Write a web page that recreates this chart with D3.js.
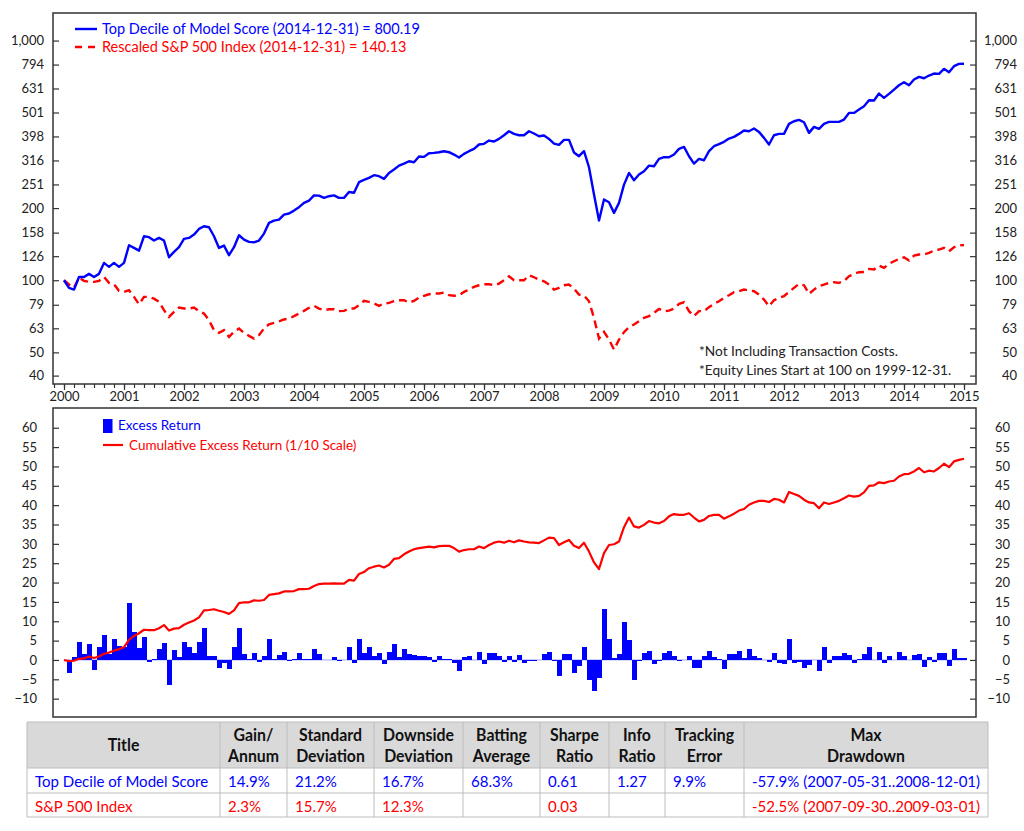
<!DOCTYPE html>
<html>
<head>
<meta charset="utf-8">
<script src="https://d3js.org/d3.v7.min.js"></script>
<style>
  body { margin: 0; background: #fff; }
  text { font-family: Lato, "Open Sans", sans-serif; }
</style>
</head>
<body>
<script>
// monthly equity lines, 1999-12-31 .. 2014-12-31 (181 points)
var modelScore = [100, 92.9, 91.4, 103.2, 103.2, 106.3, 103.2, 106.3, 118.1, 113.7, 118.1, 113.7, 118.1,
  140.0, 136.4, 132.9, 152.6, 151.2, 146.4, 150.2, 146.4, 124.7, 131.3, 137.3, 148.8,
  150.2, 155.0, 163.7, 168.0, 166.4, 152.6, 136.4, 139.5, 127.2, 137.3, 154.0, 147.8,
  144.5, 144.0, 146.4, 156.5, 173.5, 177.4, 179.1, 187.9, 189.9, 195.2, 201.8, 210.1,
  215.0, 226.0, 225.4, 220.6, 224.1, 226.0, 220.6, 220.6, 233.5, 231.6, 256.6, 262.0,
  267.3, 274.3, 271.7, 264.8, 280.4, 289.6, 300.8, 306.7, 313.6, 310.7, 328.1, 327.1,
  338.8, 339.9, 342.1, 345.4, 342.1, 334.5, 325.0, 336.6, 345.4, 353.2, 368.3, 370.6,
  382.6, 379.0, 388.8, 402.7, 418.5, 407.9, 402.7, 402.7, 418.5, 409.3, 398.9, 401.5,
  388.8, 371.8, 367.1, 385.1, 385.1, 341.0, 329.2, 345.4, 296.1, 227.8, 177.4, 217.1,
  211.6, 191.0, 210.2, 250.6, 280.4, 261.4, 276.0, 285.0, 300.8, 298.9, 320.9, 326.1,
  326.1, 334.5, 353.2, 360.0, 329.2, 306.7, 320.9, 316.7, 345.4, 362.3, 369.4, 377.8,
  390.1, 396.3, 407.9, 421.2, 418.5, 429.4, 415.8, 392.6, 368.3, 402.7, 407.9, 407.9,
  449.1, 460.7, 466.7, 456.3, 411.9, 436.3, 428.0, 449.1, 457.8, 457.8, 457.8, 468.2,
  499.0, 499.0, 515.3, 532.1, 563.6, 561.9, 600.9, 576.5, 599.0, 624.5, 651.0, 670.0,
  651.0, 687.5, 705.3, 696.3, 714.5, 728.3, 726.0, 761.8, 737.8, 781.5, 799.2, 800.19];

var spIndex = [100, 96, 93, 102.6, 99.4, 98.4, 98.4, 99.4, 103.2, 97.5, 96.2, 90.3, 89.4,
  90.9, 85.2, 79.4, 85.2, 85.2, 83.8, 81.2, 75.0, 70.3, 73.8, 76.9, 76.2,
  76.2, 76.9, 74.3, 72.6, 68.1, 61.9, 60.3, 61.9, 58.0, 60.9, 62.9, 60.3,
  58.6, 57.1, 59.0, 62.9, 65.5, 66.4, 67.3, 68.6, 69.2, 70.8, 72.6, 74.5,
  76.7, 78.2, 76.2, 75.0, 75.7, 75.7, 74.3, 74.5, 76.2, 76.2, 78.7, 82.0,
  81.2, 80.0, 78.2, 80.0, 80.4, 81.8, 82.5, 82.5, 80.7, 82.0, 84.7, 86.1,
  87.4, 88.0, 88.0, 88.8, 86.6, 86.1, 86.6, 89.4, 91.4, 93.8, 95.3, 96.2,
  96.2, 95.3, 96.8, 100.0, 103.9, 100.0, 100.0, 100.0, 104.9, 102.9, 100.6, 99.0,
  95.9, 91.4, 92.9, 95.3, 95.9, 92.3, 87.1, 86.3, 81.7, 69.6, 57.1, 60.9,
  56.5, 51.4, 56.5, 60.7, 63.7, 65.3, 67.4, 69.6, 70.8, 73.1, 75.9, 74.3,
  74.7, 76.2, 79.7, 80.9, 74.3, 70.8, 74.3, 74.3, 77.2, 79.7, 81.7, 84.4,
  86.6, 89.1, 90.0, 91.4, 90.6, 90.0, 87.1, 83.0, 77.9, 82.5, 84.4, 85.8,
  89.4, 92.9, 96.5, 95.3, 87.7, 91.4, 94.4, 95.9, 97.5, 98.1, 97.5, 99.0,
  103.9, 106.3, 108.0, 108.3, 111.5, 110.8, 115.1, 112.6, 117.0, 120.0, 122.7, 124.7,
  120.8, 126.7, 128.0, 128.0, 130.0, 133.0, 134.3, 136.4, 132.1, 137.3, 140.0, 140.13];

// monthly excess return, 2000-01 .. 2014-12 (180 bars)
var excessReturn = [-3.3, 0.7, 4.6, 1.6, 4.1, -2.6, 3.3, 6.4, 1.5, 5.5, 3.7, 3.3,
  14.7, 7.2, 3.2, 6.0, -0.6, 0.3, 2.8, 4.5, -6.6, 2.6, 0.7, 4.7,
  3.4, 1.7, 4.7, 8.2, 0.9, 0.9, -2.0, -0.7, -2.4, 3.4, 8.2, 1.5,
  0.3, 1.9, -0.5, 0.9, 5.4, 0.3, 1.3, 2.0, -0.2, 0.3, 1.7, 0.2,
  0.2, 2.8, 1.6, 0.1, 0.1, 0.8, -0.3, 0.1, 3.4, -0.7, 5.4, 1.7,
  3.3, 0.9, 1.7, -1.0, 2.1, 4.1, 0.7, 2.8, 1.6, 1.3, 1.0, 0.9,
  0.7, -0.4, 0.9, 0.3, 0.2, -0.9, -2.8, 0.7, 0.9, 0.1, 2.0, -1.1,
  1.9, 1.7, 0.9, -0.5, 1.0, -0.6, 1.3, -0.7, -0.3, -0.2, 0.1, 1.6,
  2.1, -0.2, -4.1, 1.6, 1.6, -3.4, -1.5, 3.4, -5.3, -7.9, -4.7, 13.1,
  5.4, 0.6, 1.5, 9.7, 5.1, -5.2, -0.3, 1.7, 2.2, -1.0, -0.2, 1.7,
  2.3, 0.9, -0.3, 0.1, 1.0, -2.2, -2.2, 0.9, 2.3, 0.7, 0.3, -2.3,
  1.5, 1.5, 2.2, 0.4, 2.8, 0.9, 0.6, 0.1, -0.6, 1.9, -0.7, -1.1,
  5.5, -0.7, -0.6, -2.2, -1.4, 0.1, -2.8, 3.3, -0.7, 0.9, 0.9, 1.9,
  1.3, -0.7, 0.3, 1.6, 3.4, 0.1, 2.1, -0.7, 0.9, 0, 2.1, 0.9,
  0, 1.3, 1.6, -1.7, 0.8, -0.4, 1.7, 1.7, -1.5, 2.8, 0.4, 0.4];

// cumulative excess return (1/10 scale), 181 points
var cumExcess = [0, -0.3, -0.2, 0.3, 0.4, 0.9, 0.5, 0.9, 1.6, 1.9, 2.4, 2.8, 3.3,
  5.2, 6.2, 6.9, 7.8, 7.7, 7.7, 8.2, 9.0, 7.6, 8.1, 8.2, 9.1,
  9.7, 10.2, 11.0, 12.8, 12.9, 13.1, 12.7, 12.4, 11.9, 12.8, 14.7, 14.9,
  14.9, 15.4, 15.3, 15.5, 16.8, 17.0, 17.2, 17.7, 17.7, 17.8, 18.3, 18.3,
  18.4, 19.1, 19.6, 19.7, 19.7, 19.8, 19.7, 19.7, 20.7, 20.5, 22.2, 22.7,
  23.7, 24.1, 24.4, 23.9, 24.6, 26.1, 26.3, 27.3, 28.0, 28.6, 28.9, 29.1,
  29.3, 29.1, 29.4, 29.5, 29.5, 28.9, 28.0, 28.4, 28.6, 28.6, 29.3, 28.9,
  29.7, 30.3, 30.6, 30.3, 30.8, 30.4, 30.9, 30.6, 30.4, 30.3, 30.2, 30.9,
  31.6, 31.5, 29.7, 30.4, 31.0, 29.5, 28.9, 30.3, 28.0, 25.2, 23.5, 27.6,
  29.7, 29.9, 30.6, 34.3, 36.8, 34.5, 34.2, 34.9, 35.9, 35.5, 35.3, 35.9,
  37.1, 37.7, 37.5, 37.5, 37.9, 36.8, 35.8, 36.2, 37.2, 37.5, 37.5, 36.5,
  37.1, 37.8, 38.6, 39.0, 40.1, 40.7, 41.1, 41.1, 40.8, 41.6, 41.4, 40.7,
  43.4, 42.9, 42.4, 41.4, 40.7, 40.5, 39.2, 40.7, 40.3, 40.7, 41.1, 41.8,
  42.5, 42.2, 42.4, 43.3, 45.0, 45.1, 45.9, 45.7, 46.1, 46.3, 47.4, 48.0,
  48.1, 48.7, 49.6, 48.5, 48.9, 48.7, 49.6, 50.7, 49.8, 51.3, 51.7, 52.0];

var equityTicks = [1000, 794, 631, 501, 398, 316, 251, 200, 158, 126, 100, 79, 63, 50, 40];
var excessTicks = [-10, -5, 0, 5, 10, 15, 20, 25, 30, 35, 40, 45, 50, 55, 60];
var years = d3.range(2000, 2016);

var tableHeader = [["Title"], ["Gain/", "Annum"], ["Standard", "Deviation"], ["Downside", "Deviation"],
  ["Batting", "Average"], ["Sharpe", "Ratio"], ["Info", "Ratio"], ["Tracking", "Error"], ["Max", "Drawdown"]];
var tableRows = [
  ["Top Decile of Model Score", "14.9%", "21.2%", "16.7%", "68.3%", "0.61", "1.27", "9.9%", "-57.9% (2007-05-31..2008-12-01)"],
  ["S&P 500 Index", "2.3%", "15.7%", "12.3%", "", "0.03", "", "", "-52.5% (2007-09-30..2009-03-01)"]
];
var rowColors = ["#0000ff", "#ff0000"];

var W = 1024, H = 831;
var svg = d3.select("body").append("svg").attr("width", W).attr("height", H);
svg.append("rect").attr("width", W).attr("height", H).attr("fill", "#fff");

var L = 53, R = 976;
var x = d3.scaleLinear().domain([2000, 2015]).range([64, 964]);
var yTop = d3.scaleLog().domain([36.9, 1303]).range([384, 13]);
var yBot = d3.scaleLinear().domain([-14.74, 65.1]).range([717, 408]);
var t = function (i) { return 2000 + i / 12; };

function styleAxis(g) {
  g.select(".domain").remove();
  g.selectAll("line").attr("stroke", "#333").attr("stroke-width", 1.2);
  g.selectAll("text").attr("fill", "#222").style("font-size", "13px").style("font-family", "Lato, sans-serif");
}

// ---- top chart: equity lines ----
var fmt = d3.format(",");
svg.append("g").attr("transform", "translate(" + L + ",0)")
  .call(d3.axisLeft(yTop).tickValues(equityTicks).tickFormat(fmt).tickSize(-6).tickPadding(9))
  .call(styleAxis);
svg.append("g").attr("transform", "translate(" + R + ",0)")
  .call(d3.axisRight(yTop).tickValues(equityTicks).tickFormat(fmt).tickSize(-6))
  .call(styleAxis)
  .selectAll("text").attr("text-anchor", "end").attr("x", 41);

svg.append("g").attr("transform", "translate(0,384)")
  .call(d3.axisBottom(x).tickValues(d3.range(-1, 91).map(function (k) { return 2000 + (k * 2) / 12; })
    .filter(function (v) { return x(v) >= L && x(v) <= R; })).tickFormat("").tickSize(4))
  .call(styleAxis);
svg.append("g").attr("transform", "translate(0,384)")
  .call(d3.axisBottom(x).tickValues(years).tickFormat(d3.format("d")).tickSize(6).tickPadding(2))
  .call(styleAxis);

var lineTop = d3.line().x(function (d, i) { return x(t(i)); }).y(function (d) { return yTop(d); });
svg.append("path").datum(spIndex).attr("d", lineTop)
  .attr("fill", "none").attr("stroke", "#ff0000").attr("stroke-width", 2.4)
  .attr("stroke-dasharray", "8,5");
svg.append("path").datum(modelScore).attr("d", lineTop)
  .attr("fill", "none").attr("stroke", "#0000ff").attr("stroke-width", 2.4)
  .attr("stroke-linejoin", "round");

svg.append("rect").attr("x", L).attr("y", 13).attr("width", R - L).attr("height", 384 - 13)
  .attr("fill", "none").attr("stroke", "#333").attr("stroke-width", 1.5);

// legend
svg.append("line").attr("x1", 75).attr("x2", 97).attr("y1", 29).attr("y2", 29)
  .attr("stroke", "#0000ff").attr("stroke-width", 2.4);
svg.append("text").attr("x", 102).attr("y", 34).attr("fill", "#0000ff").style("font-size", "14.5px")
  .text("Top Decile of Model Score (2014-12-31) = 800.19");
svg.append("line").attr("x1", 75).attr("x2", 97).attr("y1", 47).attr("y2", 47)
  .attr("stroke", "#ff0000").attr("stroke-width", 2.4).attr("stroke-dasharray", "7,6");
svg.append("text").attr("x", 102).attr("y", 52).attr("fill", "#ff0000").style("font-size", "14.5px")
  .text("Rescaled S&P 500 Index (2014-12-31) = 140.13");

svg.append("text").attr("x", 699).attr("y", 356).attr("fill", "#222").style("font-size", "13.7px")
  .text("*Not Including Transaction Costs.");
svg.append("text").attr("x", 699).attr("y", 375).attr("fill", "#222").style("font-size", "13.7px")
  .text("*Equity Lines Start at 100 on 1999-12-31.");

// ---- bottom chart: excess return ----
svg.append("g").attr("transform", "translate(" + L + ",0)")
  .call(d3.axisLeft(yBot).tickValues(excessTicks).tickSize(-6).tickPadding(16))
  .call(styleAxis);
svg.append("g").attr("transform", "translate(" + R + ",0)")
  .call(d3.axisRight(yBot).tickValues(excessTicks).tickSize(-6))
  .call(styleAxis)
  .selectAll("text").attr("text-anchor", "end").attr("x", 34);

svg.append("line").attr("x1", x(t(0.5))).attr("x2", x(t(180.5))).attr("y1", yBot(0)).attr("y2", yBot(0))
  .attr("stroke", "#9fa6ff").attr("stroke-width", 1);
svg.append("g").attr("shape-rendering", "crispEdges")
  .selectAll("rect").data(excessReturn).enter().append("rect")
  .attr("x", function (d, i) { return x(t(i + 1)) - 2.5; })
  .attr("width", 5)
  .attr("y", function (d) { return yBot(Math.max(0, d)); })
  .attr("height", function (d) { return Math.abs(yBot(d) - yBot(0)); })
  .attr("fill", "#0000ff");

var lineBot = d3.line().x(function (d, i) { return x(t(i)); }).y(function (d) { return yBot(d); });
svg.append("path").datum(cumExcess).attr("d", lineBot)
  .attr("fill", "none").attr("stroke", "#ff0000").attr("stroke-width", 2.2)
  .attr("stroke-linejoin", "round");

svg.append("rect").attr("x", L).attr("y", 408).attr("width", R - L).attr("height", 717 - 408)
  .attr("fill", "none").attr("stroke", "#333").attr("stroke-width", 1.5);

svg.append("rect").attr("x", 103).attr("y", 419).attr("width", 9.5).attr("height", 14).attr("fill", "#0000ff");
svg.append("text").attr("x", 118).attr("y", 430).attr("fill", "#0000ff").style("font-size", "13.5px")
  .text("Excess Return");
svg.append("line").attr("x1", 103).attr("x2", 123).attr("y1", 445).attr("y2", 445)
  .attr("stroke", "#ff0000").attr("stroke-width", 2.2);
svg.append("text").attr("x", 129).attr("y", 450).attr("fill", "#ff0000").style("font-size", "13.5px")
  .text("Cumulative Excess Return (1/10 Scale)");

// ---- statistics table ----
var colX = [27, 220, 287, 374, 463, 540, 609, 665, 744, 988];
var rowY = [722, 768, 793, 817];
var tbl = svg.append("g");
tbl.append("rect").attr("x", colX[0]).attr("y", rowY[0]).attr("width", colX[9] - colX[0])
  .attr("height", rowY[1] - rowY[0]).attr("fill", "#d9d9d9");
function narrow(sel, sx) {
  sel.attr("transform", function () {
    var e = d3.select(this);
    return "translate(" + e.attr("data-x") + "," + e.attr("data-y") + ") scale(" + sx + ",1)";
  });
}
tableHeader.forEach(function (lines, c) {
  var cx = (colX[c] + colX[c + 1]) / 2;
  lines.forEach(function (s, k) {
    var cy = lines.length === 1 ? 751 : 741 + k * 20.5;
    tbl.append("text").attr("data-x", cx).attr("data-y", cy).attr("text-anchor", "middle")
      .attr("fill", "#111").style("font-size", "16.5px").style("font-weight", "bold").text(s)
      .call(narrow, 0.96);
  });
});
tableRows.forEach(function (row, r) {
  row.forEach(function (s, c) {
    tbl.append("text").attr("data-x", colX[c] + 8).attr("data-y", rowY[r + 1] + 19)
      .attr("fill", rowColors[r]).style("font-size", "16px").text(s)
      .call(narrow, 0.94);
  });
});
var gridColor = "#bdbdbd";
colX.forEach(function (cx) {
  tbl.append("line").attr("x1", cx).attr("x2", cx).attr("y1", rowY[0]).attr("y2", rowY[3])
    .attr("stroke", gridColor).attr("stroke-width", 1);
});
rowY.forEach(function (ry) {
  tbl.append("line").attr("x1", colX[0]).attr("x2", colX[9]).attr("y1", ry).attr("y2", ry)
    .attr("stroke", gridColor).attr("stroke-width", 1);
});
</script>
</body>
</html>
